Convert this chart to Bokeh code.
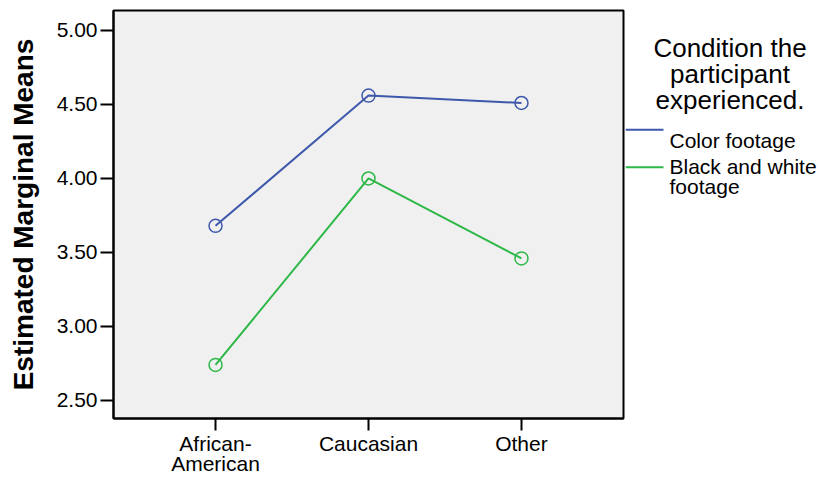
from bokeh.plotting import figure
from bokeh.models import Range1d, FixedTicker, PrintfTickFormatter
from bokeh.layouts import row
from bokeh.embed import file_html
from bokeh.resources import INLINE
from bokeh.core.properties import value

# ---- data ----
categories = ["African-\nAmerican", "Caucasian", "Other"]
color_footage = [3.68, 4.56, 4.51]
bw_footage = [2.74, 4.00, 3.46]
y_ticks = [2.5, 3.0, 3.5, 4.0, 4.5, 5.0]
series_names = ["Color footage", "Black and white\nfootage"]
legend_title = ["Condition the", "participant", "experienced."]
y_title = "Estimated Marginal Means"

FONT = "Liberation Sans"
BLUE = "#3E58AC"
GREEN = "#2EB848"
series_colors = [BLUE, GREEN]

H = 479
xs = list(range(len(categories)))

p = figure(width=625, height=H,
           x_range=Range1d(-0.667, 2.667), y_range=Range1d(2.378, 5.135),
           output_backend="svg", toolbar_location=None,
           min_border_left=113, min_border_right=2, min_border_top=10, min_border_bottom=61)
p.background_fill_color = "#F0F0F0"
p.border_fill_color = "white"
p.outline_line_color = "black"
p.outline_line_width = 2
p.grid.visible = False

# y axis
p.yaxis.ticker = FixedTicker(ticks=y_ticks)
p.yaxis.formatter = PrintfTickFormatter(format="%.2f")
p.yaxis.major_tick_out = 13
p.yaxis.major_tick_in = 0
p.yaxis.major_tick_line_width = 2
p.yaxis.minor_tick_line_color = None
p.yaxis.axis_line_width = 2
p.yaxis.major_label_text_font = FONT
p.yaxis.major_label_text_font_size = "21px"
p.yaxis.major_label_text_color = "black"
p.yaxis.major_label_standoff = 3
p.yaxis.axis_label = y_title
p.yaxis.axis_label_text_font = FONT
p.yaxis.axis_label_text_font_style = "bold"
p.yaxis.axis_label_text_font_size = "28px"
p.yaxis.axis_label_text_color = "black"
p.yaxis.axis_label_standoff = 15

# x axis with multi-line category labels
p.xaxis.ticker = FixedTicker(ticks=xs)
p.xaxis.major_label_overrides = {x: t for x, t in zip(xs, categories)}
p.xaxis.major_tick_out = 12
p.xaxis.major_tick_in = 0
p.xaxis.major_tick_line_width = 2
p.xaxis.minor_tick_line_color = None
p.xaxis.axis_line_width = 2
p.xaxis.major_label_text_font = FONT
p.xaxis.major_label_text_font_size = "21px"
p.xaxis.major_label_text_color = "black"
p.xaxis.major_label_text_line_height = 0.9
p.xaxis.major_label_standoff = 1

for vals, col in zip([color_footage, bw_footage], series_colors):
    p.line(xs, vals, line_color=col, line_width=2)
    p.scatter(xs, vals, marker="circle", size=13, fill_color=None,
              line_color=col, line_width=1.5)

# legend panel (its frame is aligned with the main frame: y 10..418)
LW = 820 - 625
leg = figure(width=LW, height=H, x_range=Range1d(0, LW), y_range=Range1d(418, 10),
             output_backend="svg", toolbar_location=None,
             min_border_left=0, min_border_right=0, min_border_top=10, min_border_bottom=61,
             x_axis_location=None, y_axis_location=None)
leg.outline_line_color = None
leg.grid.visible = False
leg.background_fill_color = "white"
leg.border_fill_color = "white"

leg.text(x=[104.5] * 3, y=[47, 73, 99], text=legend_title, text_align="center",
         text_baseline="alphabetic", text_font=value(FONT), text_font_size="26px",
         text_color="black")

line_y = [129.3, 166.7]
leg.segment(x0=[0, 0], y0=line_y, x1=[38, 38], y1=line_y,
            line_color=series_colors, line_width=2)
entry_lines = []
entry_y = []
base_y = [140, 165.7]
for k, name in enumerate(series_names):
    for j, line in enumerate(name.split("\n")):
        entry_lines.append(line)
        entry_y.append(base_y[k] + 20.3 * j)
leg.text(x=[44] * len(entry_lines), y=entry_y, text=entry_lines, text_align="left",
         text_baseline="alphabetic", text_font=value(FONT), text_font_size="21px",
         text_color="black")

layout = row(p, leg)
open("out.html", "w").write(file_html(layout, INLINE))
